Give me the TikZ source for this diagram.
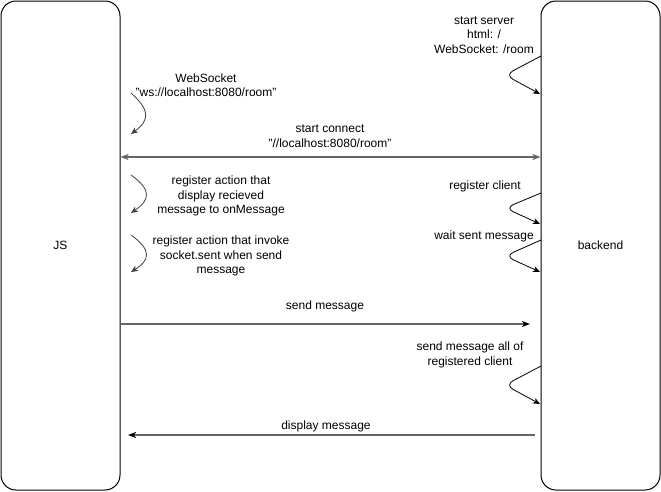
\documentclass[tikz,border=0pt]{standalone}
\usepackage{fontspec}
\setmainfont{Liberation Sans}
\usetikzlibrary{arrows.meta}
\begin{document}
\begin{tikzpicture}[x=1pt,y=-1pt,
  every node/.style={font=\fontsize{12}{14.4}\selectfont, inner sep=0pt, align=center},
  lifeline/.style={draw=black, line width=1pt, rounded corners=15pt, minimum width=119pt, minimum height=489pt},
  msg/.style={draw=black!60, line width=1.5pt, -{Stealth[length=8pt,width=6pt,inset=2pt]}, arrows={[black]}},
  msgboth/.style={draw=black!60, line width=1.5pt, {Stealth[length=8pt,width=6pt,inset=2pt]}-{Stealth[length=8pt,width=6pt,inset=2pt]}},
  selfloop/.style={draw=black, line width=0.8pt, -{Stealth[length=7pt,width=6pt,inset=2pt]}},
  lbl/.style={text=black}
]
\useasboundingbox (0,0) rectangle (661,491);
\node[lifeline] (js) at (60.5,245.5) {JS};
\node[lifeline] (be) at (600.5,245.5) {backend};

% right side texts
\node[lbl] (t1) at (484,35) {start server\\html: /\\WebSocket: /room};
\node[lbl] (t2) at (485,186) {register client};
\node[lbl] (t3) at (484,236) {wait sent message};
\node[lbl] (t4) at (470,355) {send message all of\\registered client};

% left side texts
\node[lbl] (t5) at (206,85) {WebSocket\\"ws://localhost:8080/room"};
\node[lbl] (t6) at (221,196) {register action that\\display recieved\\message to onMessage};
\node[lbl] (t7) at (221,256) {register action that invoke\\socket.sent when send\\message};

% message labels
\node[lbl] (m1) at (330,136) {start connect\\"//localhost:8080/room"};
\node[lbl] (m2) at (325,306) {send message};
\node[lbl] (m3) at (326,426) {display message};

% right self loops
\coordinate (r1a) at (541,56); \coordinate (r1b) at (505,75); \coordinate (r1c) at (540,94);
\draw[selfloop, rounded corners=9pt] (r1a) -- (r1b) -- (r1c);
\coordinate (r2a) at (541,193); \coordinate (r2b) at (505,208); \coordinate (r2c) at (540,224);
\draw[selfloop, rounded corners=9pt] (r2a) -- (r2b) -- (r2c);
\coordinate (r3a) at (541,240); \coordinate (r3b) at (505,256); \coordinate (r3c) at (540,272);
\draw[selfloop, rounded corners=9pt] (r3a) -- (r3b) -- (r3c);
\coordinate (r4a) at (541,366); \coordinate (r4b) at (505,385); \coordinate (r4c) at (540,404);
\draw[selfloop, rounded corners=9pt] (r4a) -- (r4b) -- (r4c);

% left self loops
\coordinate (l1a) at (131,93); \coordinate (l1c) at (131,134);
\draw[selfloop, draw=black!75] (l1a) .. controls (150,110) and (150,120) .. (l1c);
\coordinate (l2a) at (131,175); \coordinate (l2c) at (131,213);
\draw[selfloop, draw=black!75] (l2a) .. controls (152,190) and (150,200) .. (l2c);
\coordinate (l3a) at (131,235); \coordinate (l3c) at (131,272);
\draw[selfloop, draw=black!75] (l3a) .. controls (152,250) and (150,260) .. (l3c);

% messages
\draw[msgboth] (js.east |- 0,157) -- (be.west |- 0,157);
\coordinate (m2end) at (530,324);
\draw[msg] (js.east |- 0,324) -- (m2end);
\coordinate (m3start) at (535,435);
\coordinate (m3end) at (128,435);
\draw[msg] (m3start) -- (m3end);
\end{tikzpicture}
\end{document}
